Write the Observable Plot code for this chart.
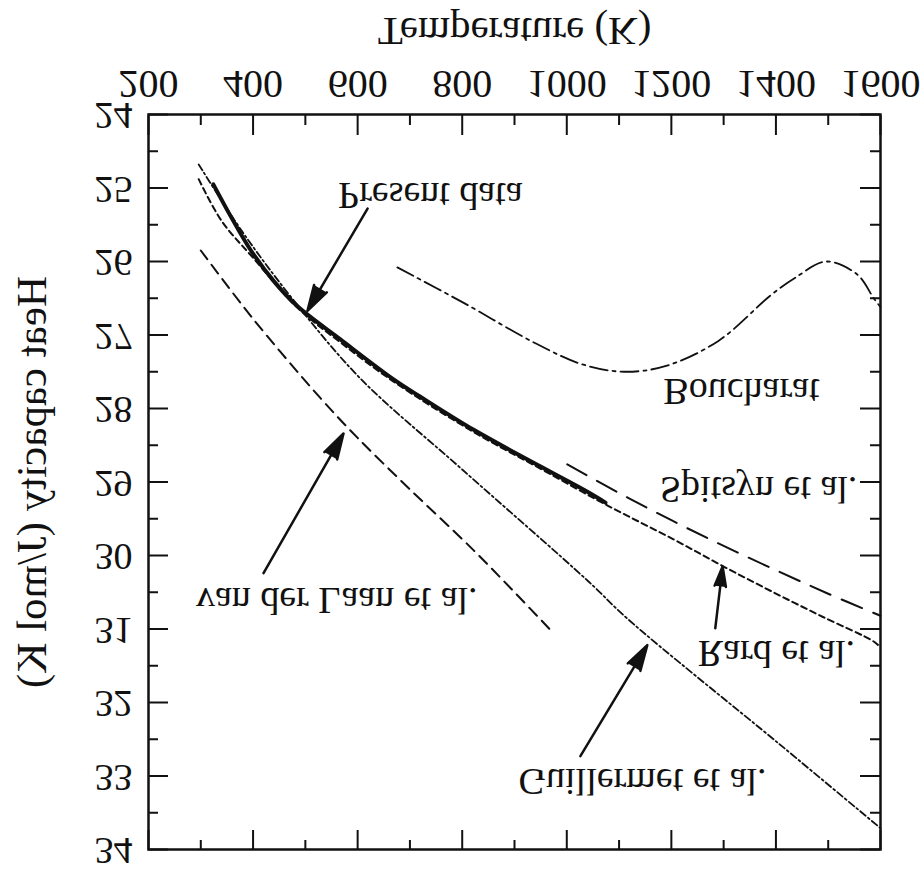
<!DOCTYPE html>
<html><head><meta charset="utf-8">
<script src="https://cdn.jsdelivr.net/npm/d3@7"></script>
<script src="https://cdn.jsdelivr.net/npm/@observablehq/plot@0.6"></script>
<style>
body{margin:0;background:#fff}
#chart svg{display:block;transform:scaleY(-1);background:#fff}
</style>
</head><body><div id="chart"></div>
<script>
// Axis ticks
const xTicksMajor = [200, 400, 600, 800, 1000, 1200, 1400, 1600];
const xTicksMinor = [300, 500, 700, 900, 1100, 1300, 1500];
const yTicksMajor = [24, 25, 26, 27, 28, 29, 30, 31, 32, 33, 34];
const yTicksMinor = [24.5, 25.5, 26.5, 27.5, 28.5, 29.5, 30.5, 31.5, 32.5, 33.5];
const xLabel = "Temperature (K)";
const yLabel = "Heat capacity (J/mol K)";

// Series (T in K, Cp in J/mol K)
const presentT = [324, 360, 395, 440, 485, 567, 668, 720, 822, 950, 1041, 1074];
const presentCp = [24.95, 25.42, 25.84, 26.27, 26.61, 27.06, 27.6, 27.84, 28.29, 28.79, 29.14, 29.28];

const rardT = [296, 340, 400, 485, 567, 668, 822, 950, 1078, 1204, 1300, 1395, 1491, 1587, 1600];
const rardCp = [24.88, 25.45, 25.95, 26.63, 27.1, 27.63, 28.32, 28.82, 29.32, 29.78, 30.15, 30.5, 30.84, 31.17, 31.25];

const spitsynT = [1001, 1100, 1200, 1300, 1400, 1500, 1600];
const spitsynCp = [28.76, 29.15, 29.52, 29.87, 30.2, 30.52, 30.82];

const guillermetT = [296, 380, 480, 605, 800, 1041, 1116, 1409, 1600];
const guillermetCp = [24.68, 25.6, 26.55, 27.59, 28.83, 30.35, 30.86, 32.58, 33.71];

const vanderlaanT = [300, 400, 529, 600, 700, 822, 900, 975];
const vanderlaanCp = [25.85, 26.78, 27.86, 28.4, 29.1, 29.93, 30.5, 31.06];

const boucharT = [676, 802, 942, 1030, 1110, 1190, 1290, 1390, 1437, 1497, 1556, 1587, 1600];
const boucharCp = [26.08, 26.56, 27.12, 27.4, 27.5, 27.42, 27.08, 26.46, 26.22, 26.0, 26.18, 26.5, 26.62];

// Annotation labels
const labelText = ["Present data", "van der Laan et al.", "Guillermet et al.", "Rard et al.", "Spitsyn et al.", "Boucharat"];
const labelT = [739, 560, 1145, 1401, 1367, 1334];
const labelCp = [25.10, 30.61, 33.07, 31.33, 29.1, 27.77];

// Arrows: tail -> head
const arrowT1 = [619, 420, 1026, 1284];
const arrowCp1 = [25.28, 30.24, 32.73, 30.99];
const arrowT2 = [504, 573, 1154, 1298];
const arrowCp2 = [26.67, 28.34, 31.22, 30.15];

const W = 924, H = 871;
const mL = 148, mR = 44, mT = 21, mB = 115;
const plotW = W - mL - mR, plotH = H - mT - mB;
const font = "Liberation Serif, DejaVu Serif, serif";

const series = (name, ts, cps) => ts.map((t, i) => ({name, t, cp: cps[i]}));
const present = series("Present data", presentT, presentCp);
const rard = series("Rard", rardT, rardCp);
const spitsyn = series("Spitsyn", spitsynT, spitsynCp);
const guillermet = series("Guillermet", guillermetT, guillermetCp);
const vdl = series("van der Laan", vanderlaanT, vanderlaanCp);
const bouch = series("Boucharat", boucharT, boucharCp);
const labels = labelText.map((s, i) => ({s, t: labelT[i], cp: labelCp[i]}));
const arrows = arrowT1.map((t, i) => ({t1: t, c1: arrowCp1[i], t2: arrowT2[i], c2: arrowCp2[i]}));

const lineOpts = (extra) => ({x: "t", y: "cp", curve: "catmull-rom", stroke: "#111", ...extra});

const chart = Plot.plot({
  width: W, height: H,
  marginLeft: mL, marginRight: mR, marginTop: mT, marginBottom: mB,
  style: {fontFamily: font, background: "#fff", color: "#111"},
  x: {domain: [200, 1600], axis: null},
  y: {domain: [24, 34], axis: null},
  marks: [
    Plot.lineY(vdl, lineOpts({strokeWidth: 2, strokeDasharray: "11,7"})),
    Plot.lineY(guillermet, lineOpts({strokeWidth: 1.8, strokeDasharray: "7,3,2,3"})),
    Plot.lineY(spitsyn, lineOpts({strokeWidth: 2, strokeDasharray: "22,12"})),
    Plot.lineY(bouch, lineOpts({strokeWidth: 1.8, strokeDasharray: "18,5,3,5"})),
    Plot.lineY(present, lineOpts({strokeWidth: 4})),
    Plot.lineY(rard, lineOpts({strokeWidth: 2, strokeDasharray: "6,4"})),
    Plot.arrow(arrows, {x1: "t1", y1: "c1", x2: "t2", y2: "c2", stroke: "#111", fill: "#111", strokeWidth: 2.5, headLength: 16, headAngle: 32}),
    Plot.text(labels, {x: "t", y: "cp", text: "s", fontSize: 38, fill: "#111", textAnchor: "middle", lineAnchor: "middle"}),
    // inward ticks
    Plot.tickX(xTicksMajor, {x: d => d, insetTop: plotH - 20, stroke: "#111", strokeWidth: 2}),
    Plot.tickX(xTicksMinor, {x: d => d, insetTop: plotH - 10, stroke: "#111", strokeWidth: 2}),
    Plot.tickX(xTicksMajor, {x: d => d, insetBottom: plotH - 20, stroke: "#111", strokeWidth: 2}),
    Plot.tickX(xTicksMinor, {x: d => d, insetBottom: plotH - 10, stroke: "#111", strokeWidth: 2}),
    Plot.tickY(yTicksMajor, {y: d => d, insetRight: plotW - 20, stroke: "#111", strokeWidth: 2}),
    Plot.tickY(yTicksMinor, {y: d => d, insetRight: plotW - 10, stroke: "#111", strokeWidth: 2}),
    Plot.tickY(yTicksMajor, {y: d => d, insetLeft: plotW - 20, stroke: "#111", strokeWidth: 2}),
    Plot.tickY(yTicksMinor, {y: d => d, insetLeft: plotW - 10, stroke: "#111", strokeWidth: 2}),
    Plot.frame({stroke: "#111", strokeWidth: 2.5}),
    // tick labels
    Plot.text(xTicksMajor, {x: d => d, y: 24, text: d => String(d), dy: 31, fontSize: 40, fill: "#111", lineAnchor: "middle"}),
    Plot.text(yTicksMajor, {x: 200, y: d => d, text: d => String(d), dx: -16, dy: -1, fontSize: 38, fill: "#111", textAnchor: "end", lineAnchor: "middle"}),
    Plot.text([xLabel], {frameAnchor: "bottom", text: d => d, dy: 83, fontSize: 41, fill: "#111", lineAnchor: "middle"}),
    Plot.text([yLabel], {frameAnchor: "left", text: d => d, dx: -116, rotate: -90, fontSize: 43, fill: "#111", textAnchor: "middle", lineAnchor: "middle"})
  ]
});
document.getElementById("chart").appendChild(chart);
</script>
</body></html>
